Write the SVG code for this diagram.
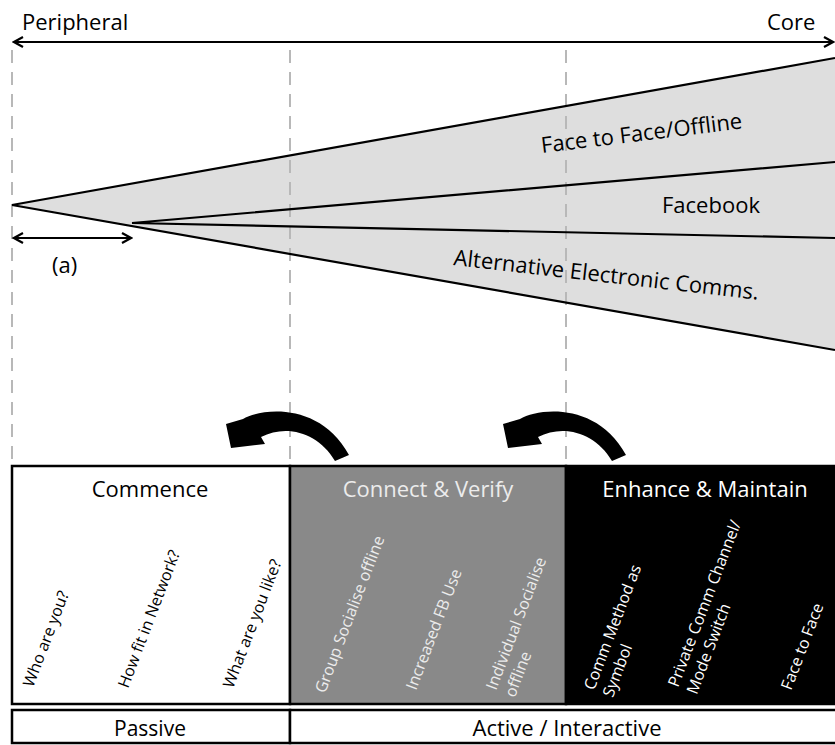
<svg xmlns="http://www.w3.org/2000/svg" width="835" height="745" viewBox="0 0 835 745">
  <style>
    text { font-family: "Open Sans", "Liberation Sans", sans-serif; fill: #000; }
    .lbl { font-size: 22px; }
    .title { font-size: 22px; text-anchor: middle; }
    .rot { font-size: 16px; }
    .light { fill: #ececec; }
    .white { fill: #ffffff; }
    .guide { stroke: #b8b8b8; stroke-width: 2; stroke-dasharray: 13 9; fill: none; }
    .edge { stroke: #000; stroke-width: 2.2; fill: none; }
    .box { stroke: #000; stroke-width: 2.5; }
  </style>
  <defs>
    <marker id="openHead" viewBox="0 0 12 12" refX="10" refY="6" markerWidth="12" markerHeight="12" markerUnits="userSpaceOnUse" orient="auto-start-reverse">
      <path d="M1,1 L10,6 L1,11" fill="none" stroke="#000" stroke-width="2.2"/>
    </marker>
    <path id="curl" d="M226,424 L243,419 C262,408 320,402 349,455 L335,461 C318,432 286,424 261,437 L265,444 L231,448 Z" fill="#000"/>
  </defs>

  <rect width="835" height="745" fill="#fff"/>

  <!-- communication fan -->
  <g id="fan">
    <polygon points="12,205 835,58 835,350" fill="#dedede"/>
  </g>

  <!-- stage guides -->
  <g id="guides">
    <line class="guide" x1="12" y1="50" x2="12" y2="465"/>
    <line class="guide" x1="290" y1="50" x2="290" y2="465"/>
    <line class="guide" x1="566" y1="50" x2="566" y2="465"/>
  </g>

  <g id="connectors">
    <line class="edge" x1="14" y1="42" x2="833" y2="42" marker-start="url(#openHead)" marker-end="url(#openHead)"/>
    <line class="edge" x1="14" y1="238" x2="131" y2="238" marker-start="url(#openHead)" marker-end="url(#openHead)"/>
    <path class="edge" d="M12,205 L835,58 M12,205 L835,350 M132,223 L835,162 M132,223 L835,238"/>
    <use href="#curl"/>
    <use href="#curl" transform="translate(277,0)"/>
  </g>

  <g id="axis-labels">
    <text class="lbl" x="22" y="30">Peripheral</text>
    <text class="lbl" x="767" y="30">Core</text>
    <text class="lbl" x="52" y="273">(a)</text>
  </g>

  <g id="channel-labels">
    <text class="lbl" transform="translate(542,153) rotate(-7)">Face to Face/Offline</text>
    <text class="lbl" x="662" y="213">Facebook</text>
    <text class="lbl" transform="translate(453,265) rotate(6.5)">Alternative Electronic Comms.</text>
  </g>

  <g id="commence">
    <rect class="box" x="12" y="466" width="278" height="238" fill="#fff"/>
    <text class="title" x="150" y="497">Commence</text>
    <text class="rot" transform="translate(33,688) rotate(-69)">Who are you?</text>
    <text class="rot" transform="translate(128,689) rotate(-69)">How fit in Network?</text>
    <text class="rot" transform="translate(233,689) rotate(-69)">What are you like?</text>
  </g>

  <g id="connect-verify">
    <rect class="box" x="290" y="466" width="276" height="238" fill="#898989"/>
    <text class="title light" x="428" y="497">Connect &amp; Verify</text>
    <text class="rot light" transform="translate(325,694) rotate(-69)">Group Socialise offline</text>
    <text class="rot light" transform="translate(416,691) rotate(-69)">Increased FB Use</text>
    <text class="rot light" transform="translate(496,691) rotate(-69)"><tspan x="0" y="0">Individual Socialise</tspan><tspan x="0" y="20">offline</tspan></text>
  </g>

  <g id="enhance-maintain">
    <rect class="box" x="566" y="466" width="272" height="238" fill="#000"/>
    <text class="title white" x="705" y="497">Enhance &amp; Maintain</text>
    <text class="rot white" transform="translate(594,691) rotate(-69)"><tspan x="0" y="0">Comm Method as</tspan><tspan x="0" y="20">Symbol</tspan></text>
    <text class="rot white" transform="translate(678,688) rotate(-69)"><tspan x="0" y="0">Private Comm Channel/</tspan><tspan x="0" y="20">Mode Switch</tspan></text>
    <text class="rot white" transform="translate(791,691) rotate(-69)">Face to Face</text>
  </g>

  <g id="passive">
    <rect class="box" x="12" y="710" width="278" height="33" fill="#fff"/>
    <text class="title" x="150" y="736" style="font-size:21px">Passive</text>
  </g>

  <g id="active">
    <rect class="box" x="290" y="710" width="548" height="33" fill="#fff"/>
    <text class="title" x="567" y="736">Active / Interactive</text>
  </g>
</svg>
